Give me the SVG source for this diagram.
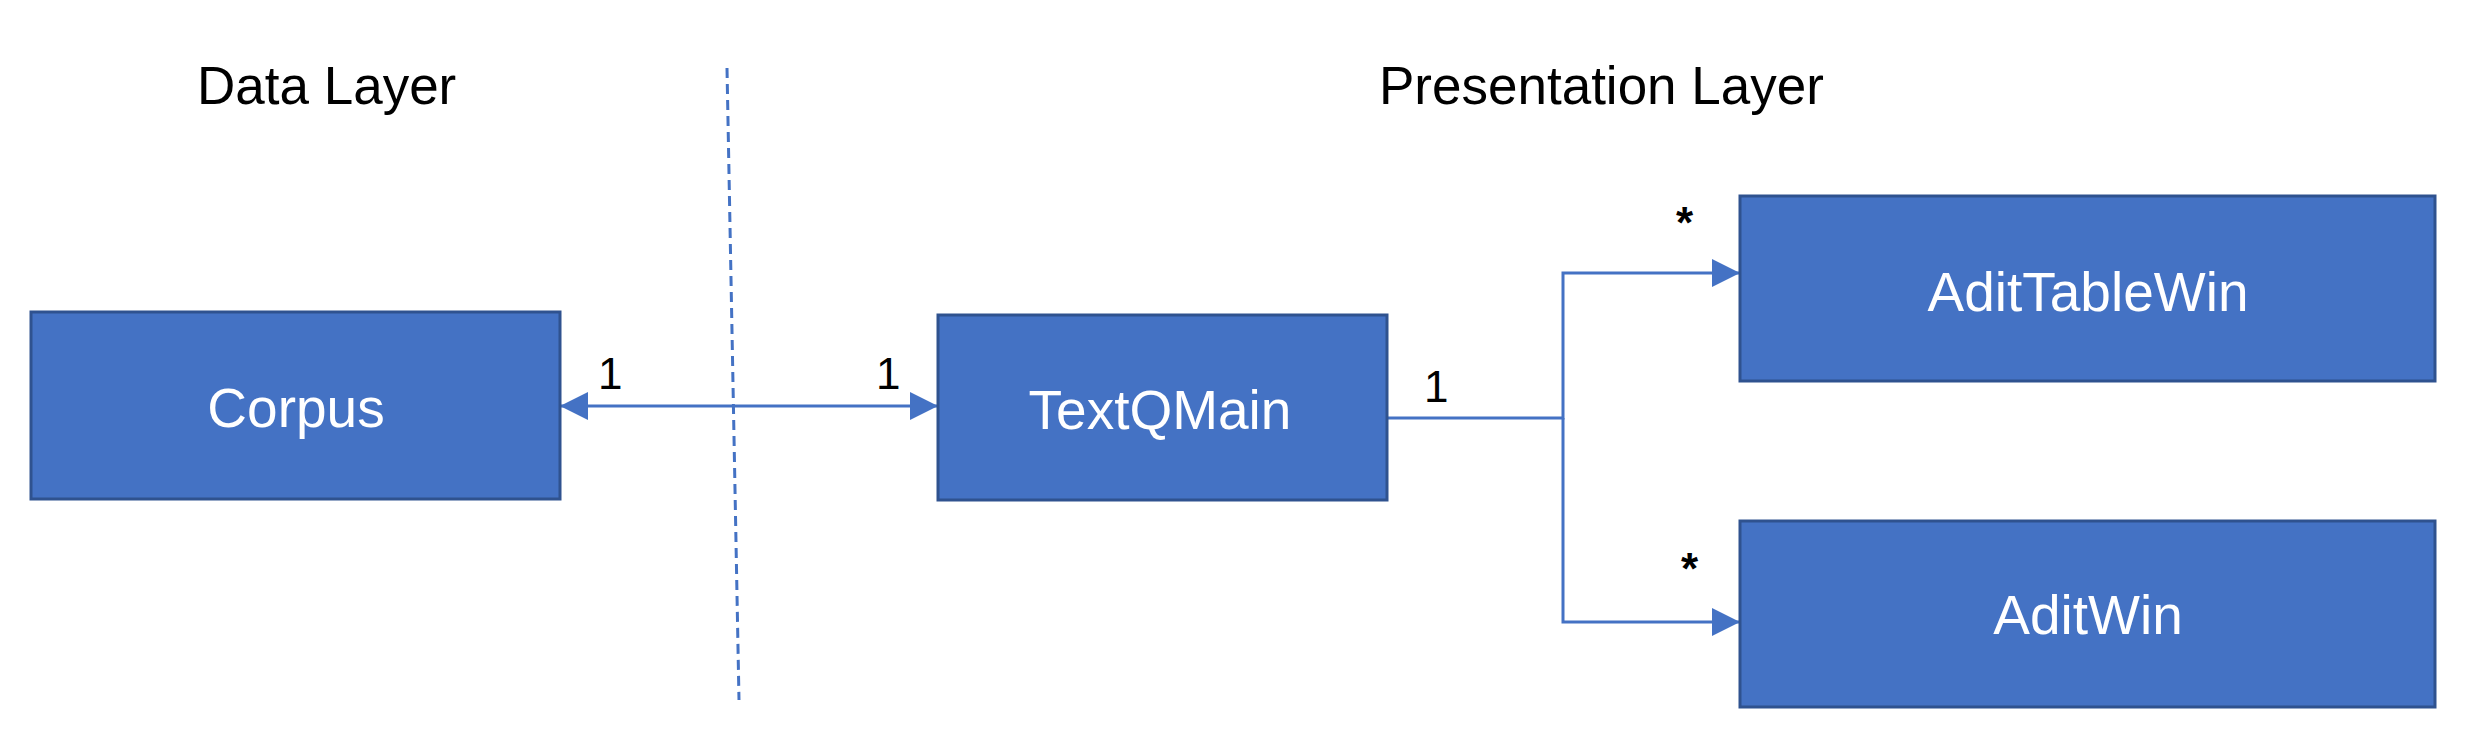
<svg xmlns="http://www.w3.org/2000/svg" width="2477" height="750" viewBox="0 0 2477 750">
<style>
  .box{fill:#4472C4;stroke:#2F528F;stroke-width:3}
  .lbl{font-family:"Liberation Sans",Arial,sans-serif;font-size:55px;fill:#FFFFFF;text-anchor:middle}
  .hdr{font-family:"Liberation Sans",Arial,sans-serif;font-size:53px;fill:#000000}
  .mult{font-family:"Liberation Sans",Arial,sans-serif;font-size:44px;fill:#000000}
  .star{font-family:"Liberation Sans",Arial,sans-serif;font-size:44px;font-weight:bold;fill:#000000}
  .conn{fill:none;stroke:#4472C4;stroke-width:3}
  .sep{fill:none;stroke:#4472C4;stroke-width:3;stroke-dasharray:10 6}
</style>
<defs>
  <marker id="arr" viewBox="0 0 28 28" refX="28" refY="14" markerWidth="28" markerHeight="28" markerUnits="userSpaceOnUse" orient="auto-start-reverse">
    <path d="M0,0 L28,14 L0,28 Z" fill="#4472C4"/>
  </marker>
</defs>
<rect width="2477" height="750" fill="#FFFFFF"/>
<g id="headers">
  <text class="hdr" x="197" y="104">Data Layer</text>
  <text class="hdr" x="1379" y="104">Presentation Layer</text>
</g>
<g id="separator">
  <line class="sep" x1="727" y1="68" x2="739" y2="700"/>
</g>
<g id="connectors">
  <line class="conn" x1="560" y1="406" x2="938" y2="406" marker-start="url(#arr)" marker-end="url(#arr)"/>
  <polyline class="conn" points="1387,418 1563,418 1563,273 1740,273" marker-end="url(#arr)"/>
  <polyline class="conn" points="1563,418 1563,622 1740,622" marker-end="url(#arr)"/>
  <text class="mult" x="598" y="389">1</text>
  <text class="mult" x="876" y="389">1</text>
  <text class="mult" x="1424" y="402">1</text>
  <text class="star" x="1676" y="238">*</text>
  <text class="star" x="1681" y="584">*</text>
</g>
<g id="corpus">
  <rect class="box" x="31" y="312" width="529" height="187"/>
  <text class="lbl" x="296" y="427">Corpus</text>
</g>
<g id="textqmain">
  <rect class="box" x="938" y="315" width="449" height="185"/>
  <text class="lbl" x="1160" y="429">TextQMain</text>
</g>
<g id="adittablewin">
  <rect class="box" x="1740" y="196" width="695" height="185"/>
  <text class="lbl" x="2088" y="311">AditTableWin</text>
</g>
<g id="aditwin">
  <rect class="box" x="1740" y="521" width="695" height="186"/>
  <text class="lbl" x="2088" y="634">AditWin</text>
</g>
</svg>
